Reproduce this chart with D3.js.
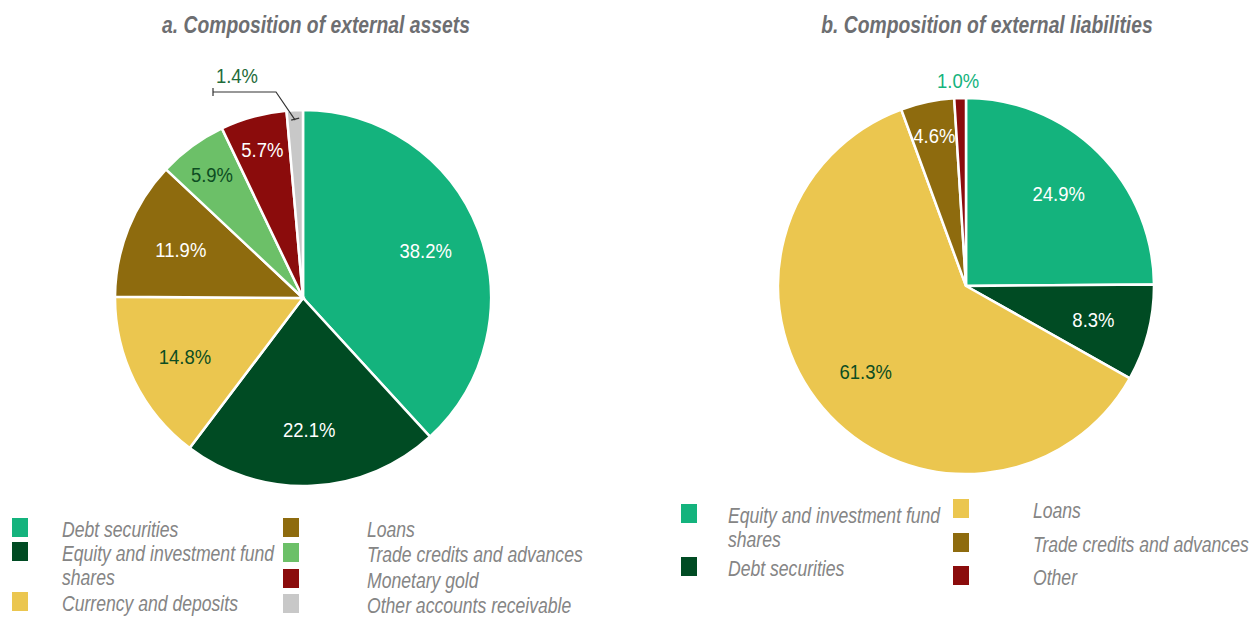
<!DOCTYPE html>
<html lang="en">
<head>
<meta charset="UTF-8">
<title>Composition of external assets and liabilities</title>
<style>
    body {
        margin: 0;
        background: #fff;
        font-family: "Liberation Sans", Arial, sans-serif;
    }
    svg {
        display: block;
    }
    .title {
        font-weight: bold;
        font-style: italic;
        font-size: 23px;
        fill: #6d6e71;
        text-anchor: middle;
    }
    .slice {
        stroke: #fff;
        stroke-width: 2.5px;
    }
    .pct {
        font-size: 21px;
        text-anchor: middle;
    }
    .legend-text {
        font-size: 22px;
        font-style: italic;
        fill: #858585;
    }
</style>
</head>
<body>
<div id="chart"></div>
<script src="https://d3js.org/d3.v7.min.js"></script>
<script>
    // panel a: external assets
    var assetNames = ["Debt securities", "Equity and investment fund shares", "Currency and deposits",
                      "Loans", "Trade credits and advances", "Monetary gold", "Other accounts receivable"];
    var assetValues = [38.2, 22.1, 14.8, 11.9, 5.9, 5.7, 1.4];
    var assetColors = ["#14b37d", "#004b23", "#ebc64f", "#8e6b0e", "#6cc068", "#8b0c0c", "#c8c8c8"];

    // panel b: external liabilities
    var liabNames = ["Equity and investment fund shares", "Debt securities", "Loans",
                     "Trade credits and advances", "Other"];
    var liabValues = [24.9, 8.3, 61.3, 4.6, 1.0];
    var liabColors = ["#14b37d", "#004b23", "#ebc64f", "#8e6b0e", "#8b0c0c"];

    var width = 1249, height = 617;
    var svg = d3.select("#chart").append("svg")
        .attr("width", width)
        .attr("height", height);

    var dark = "#1f6b3a";
    function labelColor(c) {
        return (c == "#ebc64f" || c == "#6cc068") ? "#0d4d22" : "#ffffff";
    }

    // condensed look: squeeze text horizontally
    function stext(parent, x, y, str, cls, sx) {
        var g = parent.append("g")
            .attr("transform", "translate(" + x + "," + y + ") scale(" + sx + ",1)");
        return g.append("text").attr("class", cls).text(str);
    }

    function drawPie(opts) {
        var g = svg.append("g").attr("transform", "translate(" + opts.cx + "," + opts.cy + ")");
        var pie = d3.pie().sort(null).value(function(d) { return d.v; });
        var arc = d3.arc().innerRadius(0).outerRadius(opts.r);
        var labelArc = d3.arc().innerRadius(opts.r * 0.7).outerRadius(opts.r * 0.7);
        var outerArc = d3.arc().innerRadius(opts.r * 0.82).outerRadius(opts.r * 0.82);
        var data = opts.values.map(function(v, i) { return {v: v, c: opts.colors[i], n: opts.names[i]}; });
        var arcs = pie(data);

        g.selectAll("path")
            .data(arcs)
            .enter().append("path")
            .attr("class", "slice")
            .attr("d", arc)
            .style("fill", function(d) { return d.data.c; });

        arcs.filter(function(d) { return d.data.v >= 3; }).forEach(function(d) {
            var p = d.data.v < 7 ? outerArc.centroid(d) : labelArc.centroid(d);
            stext(g, p[0], p[1] + 8, d.data.v.toFixed(1) + "%", "pct", 0.88)
                .style("fill", labelColor(d.data.c));
        });

        return {g: g, arcs: arcs};
    }

    // titles
    stext(svg, 316, 33, "a. Composition of external assets", "title", 0.84);
    stext(svg, 987, 33, "b. Composition of external liabilities", "title", 0.84);

    var pa = drawPie({cx: 303, cy: 298, r: 188, values: assetValues, colors: assetColors, names: assetNames});
    var pb = drawPie({cx: 966, cy: 286, r: 188, values: liabValues, colors: liabColors, names: liabNames});

    // small slice in panel a with a leader line
    var small = pa.arcs[6];
    var ang = (small.startAngle + small.endAngle) / 2;
    var px = 303 + Math.sin(ang) * 178, py = 298 - Math.cos(ang) * 178;
    svg.append("path")
        .attr("d", "M213,92 L276,92 L" + px + "," + py)
        .style("fill", "none")
        .style("stroke", "#333")
        .style("stroke-width", 1.2);
    svg.append("line").attr("x1", 213).attr("x2", 213).attr("y1", 88).attr("y2", 96)
        .style("stroke", "#333").style("stroke-width", 1.2);
    svg.append("line").attr("x1", px - 4).attr("x2", px + 4).attr("y1", py).attr("y2", py - 2)
        .style("stroke", "#333").style("stroke-width", 1.2);
    stext(svg, 237, 83, small.data.v.toFixed(1) + "%", "pct", 0.88).style("fill", dark);

    // small slice in panel b, label above
    var other = pb.arcs[4];
    var angB = (other.startAngle + other.endAngle) / 2;
    stext(svg, 966 + Math.sin(angB) * 188 - 2, 88, other.data.v.toFixed(1) + "%", "pct", 0.88)
        .style("fill", "#14b37d");

    // legends
    function legend(colors, x, tx, ys, lines) {
        var lg = svg.append("g");
        colors.forEach(function(c, i) {
            lg.append("rect")
                .attr("x", x).attr("y", ys[i] - 19)
                .attr("width", 16).attr("height", 19)
                .style("fill", c);
            var t = stext(lg, tx, ys[i], "", "legend-text", 0.8);
            lines[i].forEach(function(l, j) {
                t.append("tspan").attr("x", 0).attr("dy", j == 0 ? 0 : 24).text(l);
            });
        });
    }

    legend(assetColors.slice(0, 3), 12, 62, [537, 561, 611],
        [["Debt securities"], ["Equity and investment fund", "shares"], ["Currency and deposits"]]);
    legend(assetColors.slice(3), 283, 367, [537, 562, 588, 613],
        [["Loans"], ["Trade credits and advances"], ["Monetary gold"], ["Other accounts receivable"]]);
    legend(liabColors.slice(0, 2), 681, 728, [523, 576],
        [["Equity and investment fund", "shares"], ["Debt securities"]]);
    legend(liabColors.slice(2), 953, 1033, [518, 552, 585],
        [["Loans"], ["Trade credits and advances"], ["Other"]]);
</script>
</body>
</html>
